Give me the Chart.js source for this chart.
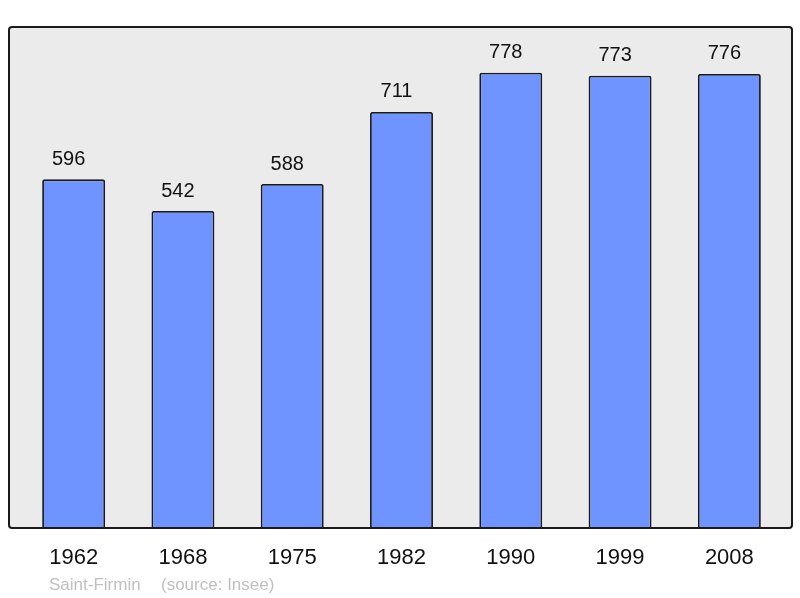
<!DOCTYPE html>
<html>
<head>
<meta charset="utf-8">
<script src="https://cdn.jsdelivr.net/npm/chart.js@4"></script>
<style>
html,body{margin:0;padding:0;background:#fff;}
#wrap{width:800px;height:598px;position:relative;}
</style>
</head>
<body>
<div id="wrap"><canvas id="c" width="800" height="598"></canvas></div>
<script>
const years = ["1962","1968","1975","1982","1990","1999","2008"];
const population = [596, 542, 588, 711, 778, 773, 776];
const footerName = "Saint-Firmin";
const footerSource = "(source: Insee)";

const frame = {
  id: 'frame',
  beforeDraw(chart) {
    const ctx = chart.ctx;
    ctx.save();
    ctx.fillStyle = '#ebebeb';
    ctx.beginPath();
    ctx.roundRect(9, 27, 783, 501, 3);
    ctx.fill();
    ctx.restore();
  },
  afterDatasetsDraw(chart) {
    const ctx = chart.ctx;
    ctx.save();
    ctx.strokeStyle = '#1a1a1a';
    ctx.lineWidth = 2;
    ctx.beginPath();
    ctx.roundRect(9, 27, 783, 501, 3);
    ctx.stroke();
    // value labels
    const meta = chart.getDatasetMeta(0);
    ctx.fillStyle = '#111';
    ctx.font = '20px "Liberation Sans", Arial, sans-serif';
    ctx.textAlign = 'center';
    ctx.textBaseline = 'middle';
    meta.data.forEach((bar, i) => {
      ctx.fillText(String(population[i]), bar.x - 5, bar.y - 20);
    });
    // footer
    ctx.fillStyle = '#c0c0c0';
    ctx.font = '17px "Liberation Sans", Arial, sans-serif';
    ctx.textAlign = 'left';
    ctx.textBaseline = 'alphabetic';
    ctx.fillText(footerName, 49, 590);
    ctx.fillText(footerSource, 161, 590);
    ctx.restore();
  }
};

new Chart(document.getElementById('c'), {
  type: 'bar',
  data: {
    labels: years,
    datasets: [{
      data: population,
      backgroundColor: '#7094ff',
      borderColor: '#1a1a1a',
      borderWidth: 1.8,
      borderSkipped: 'bottom',
      borderRadius: 2,
      barPercentage: 0.576,
      categoryPercentage: 1
    }]
  },
  options: {
    responsive: false,
    animation: false,
    devicePixelRatio: 1,
    layout: { padding: { left: 19, right: 16, top: 27, bottom: 11 } },
    plugins: { legend: { display: false }, tooltip: { enabled: false } },
    scales: {
      x: {
        grid: { display: false, drawTicks: false },
        border: { display: false },
        ticks: {
          color: '#111',
          padding: 16,
          font: { family: '"Liberation Sans", Arial, sans-serif', size: 22 }
        }
      },
      y: {
        display: false,
        min: 0,
        max: 856
      }
    }
  },
  plugins: [frame]
});
</script>
</body>
</html>
